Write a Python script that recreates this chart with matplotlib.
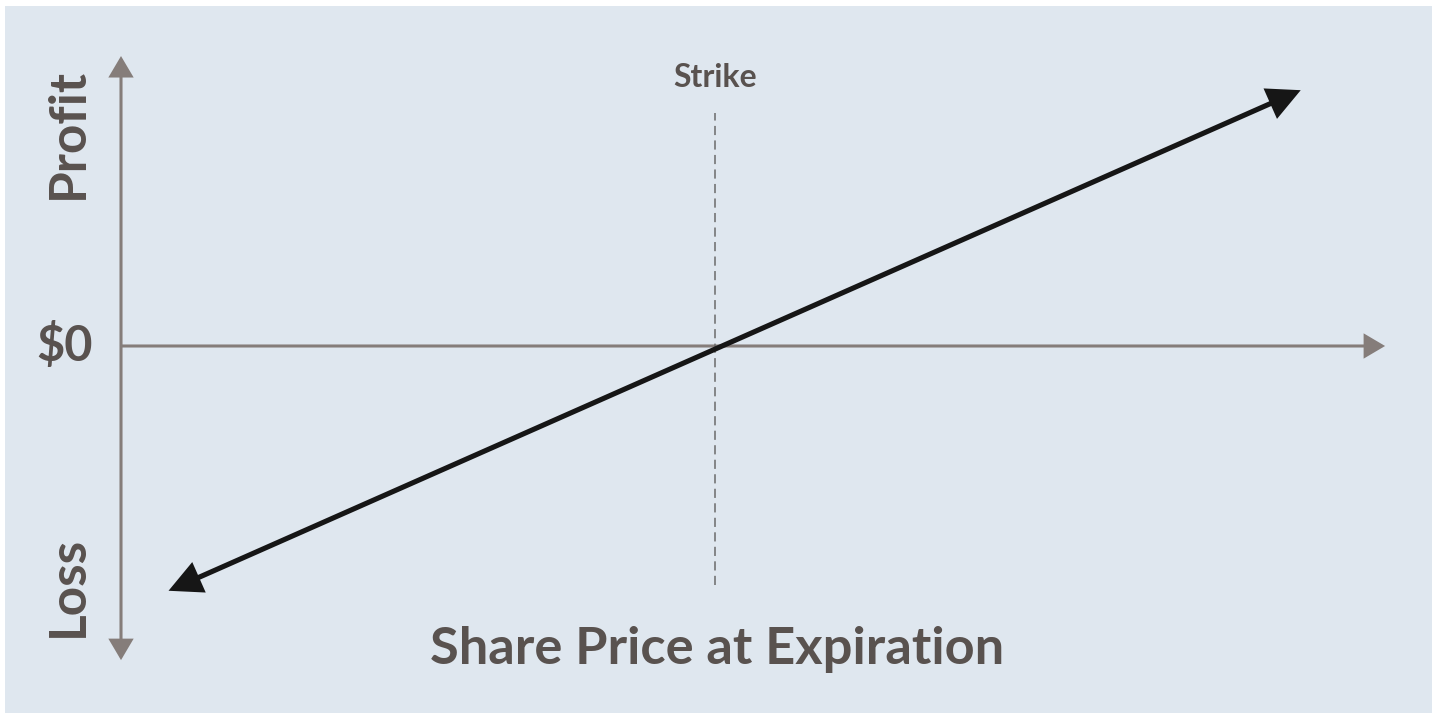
import matplotlib
matplotlib.use("Agg")
import matplotlib.pyplot as plt
from matplotlib.patches import FancyArrowPatch, Rectangle

# ---- data ----
strike = 50.0
price_ends = [4.0, 99.3]          # payoff line end points (share price)
pnl_ends = [-46.6, 48.7]          # profit/loss at those prices
x_axis_end = 106.4                # x axis arrow tip
y_axis_range = [-59.8, 55.2]      # y axis arrow tips (loss, profit)
strike_line_range = [-45.5, 44.4]
labels = {"strike": "Strike", "zero": "$0", "profit": "Profit", "loss": "Loss",
          "xlabel": "Share Price at Expiration"}

BG = "#dfe7ef"
AXC = "#857d7a"
TXT = "#59524f"
FONT = ["Lato", "DejaVu Sans"]

fig = plt.figure(figsize=(14.37, 7.13), dpi=100)
fig.patch.set_facecolor("white")
ax = fig.add_axes([0, 0, 1, 1])
ax.set_xlim(-10.185, 110.77)
ax.set_ylim(-69.87, 65.87)
ax.axis("off")
ax.add_patch(Rectangle((5 / 1437, 0), (1432 - 5) / 1437, (713 - 6) / 713,
                       transform=ax.transAxes, facecolor=BG,
                       edgecolor="none", zorder=0))

def arrow(p0, p1, style, color, lw, z):
    a = FancyArrowPatch(p0, p1, arrowstyle=style, color=color, lw=lw,
                        mutation_scale=20, shrinkA=0, shrinkB=0, zorder=z,
                        joinstyle="miter", capstyle="butt")
    ax.add_patch(a)

# axes
arrow((0, 0), (0, y_axis_range[1]), "-|>,head_length=0.61,head_width=0.36", AXC, 2.2, 2)
arrow((0, 0), (0, y_axis_range[0]), "-|>,head_length=0.61,head_width=0.36", AXC, 2.2, 2)
arrow((0, 0), (x_axis_end, 0), "-|>,head_length=0.61,head_width=0.36", AXC, 2.2, 2)

# strike dashed line
ax.plot([strike, strike], strike_line_range, color="#6a6a6a", lw=1.1,
        dashes=(6, 3.5), zorder=3)

# payoff line
arrow((price_ends[0], pnl_ends[0]), (price_ends[1], pnl_ends[1]),
      "<|-|>,head_length=0.9,head_width=0.45", "#161616", 3.7, 4)

# texts
ax.text(strike, 49.3, labels["strike"], ha="center", va="baseline", fontsize=23,
        fontweight="bold", color=TXT, family=FONT)
ax.text(-4.71, 0, labels["zero"], ha="center", va="center", fontsize=35,
        fontweight="bold", color=TXT, family=FONT)
ax.text(-4.46, 40.4, labels["profit"], ha="center", va="center", fontsize=37,
        fontweight="bold", color=TXT, family=FONT, rotation=90)
ax.text(-4.46, -45.7, labels["loss"], ha="center", va="center", fontsize=37,
        fontweight="bold", color=TXT, family=FONT, rotation=90)
ax.text(50.2, -60.5, labels["xlabel"], ha="center", va="baseline", fontsize=37.7,
        fontweight="bold", color=TXT, family=FONT)

fig.savefig("out.png", dpi=100, facecolor="white")
